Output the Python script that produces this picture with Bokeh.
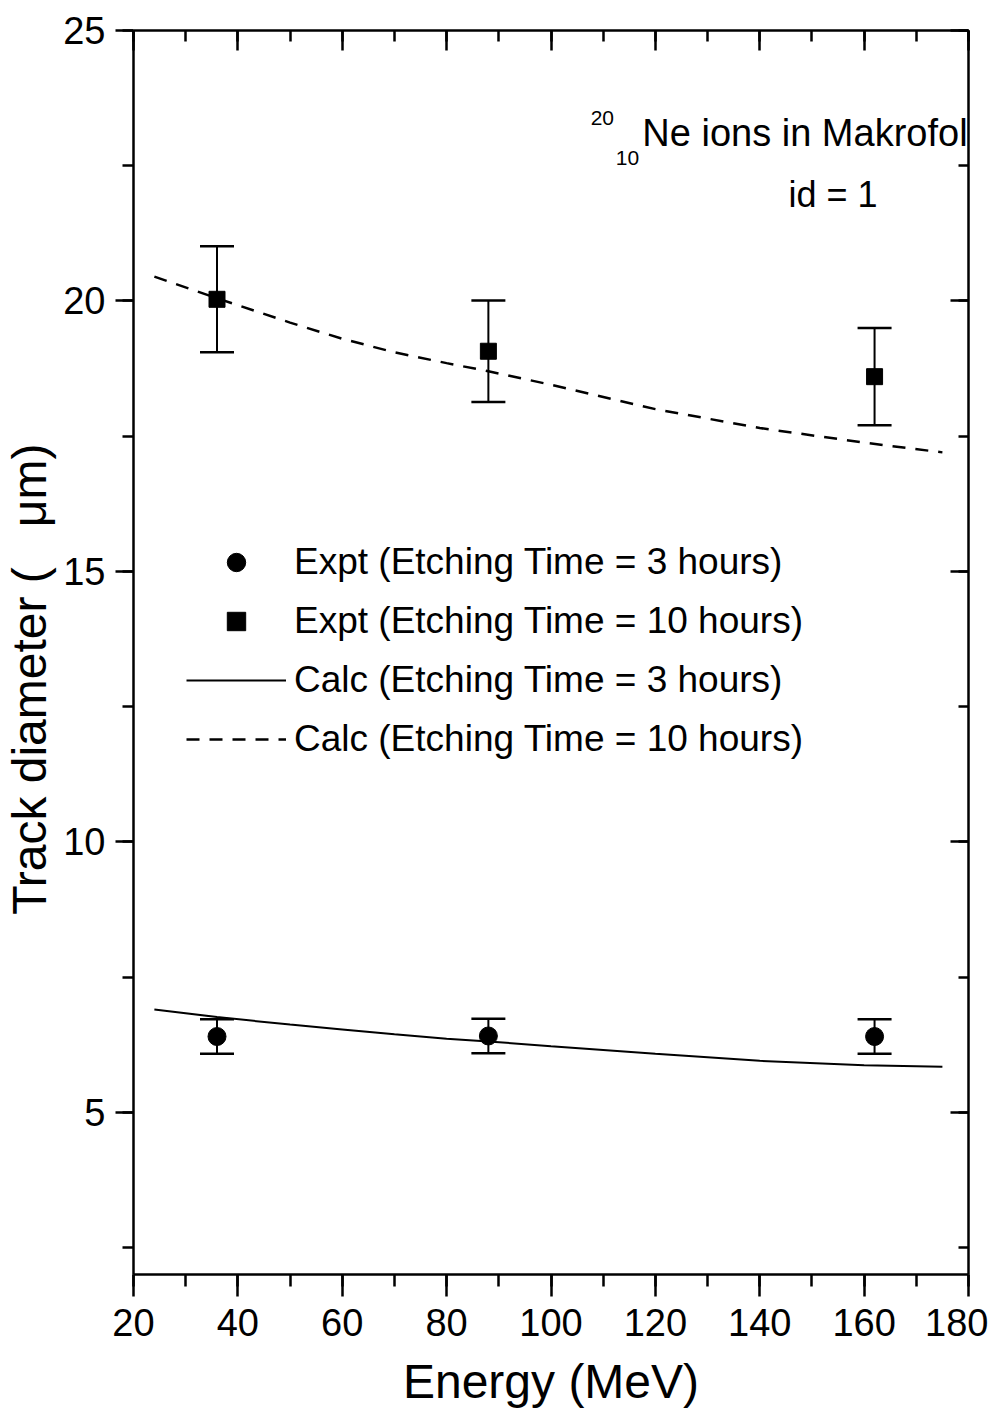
from bokeh.plotting import figure
from bokeh.models import (LinearAxis, SingleIntervalTicker, Range1d, Whisker, ColumnDataSource,
                          Legend, LegendItem, Label, CustomJSTickFormatter, TeeHead)
from bokeh.embed import file_html
from bokeh.resources import INLINE

# ---- data ----
energy_expt = [36, 88, 162]
diam_3h = [6.40, 6.41, 6.40]
err_3h = [0.32, 0.32, 0.32]
diam_10h = [20.03, 19.07, 18.60]
err_10h = [0.98, 0.94, 0.90]

energy_calc = [24, 36, 50, 60, 70, 80, 88, 100, 120, 140, 160, 175]
calc_3h = [6.90, 6.76, 6.62, 6.53, 6.44, 6.36, 6.31, 6.22, 6.08, 5.95, 5.87, 5.84]
calc_10h = [20.45, 20.05, 19.60, 19.30, 19.05, 18.85, 18.70, 18.45, 18.00, 17.65, 17.38, 17.20]

x_ticks_interval = 20
y_ticks_interval = 5

FONT = "Liberation Sans"

p = figure(frame_width=835, frame_height=1244,
           min_border_left=125, min_border_top=30, min_border_right=20, min_border_bottom=121,
           x_range=Range1d(20, 180), y_range=Range1d(2, 25),
           output_backend="svg", toolbar_location=None, x_axis_type=None, y_axis_type=None)
p.outline_line_color = None
p.xgrid.visible = False
p.ygrid.visible = False
p.background_fill_color = "white"
p.border_fill_color = "white"


def style_axis(ax, tick_out, minor_out, tick_in, minor_in):
    ax.axis_line_width = 2.5
    ax.axis_line_color = "black"
    ax.major_tick_line_width = 2.5
    ax.minor_tick_line_width = 2.5
    ax.major_tick_line_color = "black"
    ax.minor_tick_line_color = "black"
    ax.major_tick_out = tick_out
    ax.major_tick_in = tick_in
    ax.minor_tick_out = minor_out
    ax.minor_tick_in = minor_in
    ax.major_label_text_font = FONT
    ax.major_label_text_font_size = "38px"
    ax.major_label_text_color = "black"
    ax.axis_label_text_font = FONT
    ax.axis_label_text_font_size = "48px"
    ax.axis_label_text_font_style = "normal"
    ax.axis_label_text_color = "black"


xb = LinearAxis(ticker=SingleIntervalTicker(interval=x_ticks_interval, num_minor_ticks=2),
                axis_label="Energy (MeV)")
style_axis(xb, 22, 12, 0, 0)
xb.major_label_standoff = 12
xb.axis_label_standoff = 16
p.add_layout(xb, "below")

yl = LinearAxis(ticker=SingleIntervalTicker(interval=y_ticks_interval, num_minor_ticks=2),
                axis_label="Track diameter (\u00a0\u00a0\u00a0\u03bcm)\u00a0\u00a0\u00a0\u00a0")
style_axis(yl, 18, 11, 0, 0)
yl.major_label_standoff = 10
yl.axis_label_standoff = 4
p.add_layout(yl, "left")

blank = CustomJSTickFormatter(code="return ''")
xt = LinearAxis(ticker=SingleIntervalTicker(interval=x_ticks_interval, num_minor_ticks=2), formatter=blank)
style_axis(xt, 0, 0, 20, 11)
xt.major_label_standoff = 0
p.add_layout(xt, "above")

yr = LinearAxis(ticker=SingleIntervalTicker(interval=y_ticks_interval, num_minor_ticks=2), formatter=blank)
style_axis(yr, 0, 0, 18, 10)
yr.major_label_standoff = 0
p.add_layout(yr, "right")

# ---- calculated curves ----
r_l3 = p.line(energy_calc, calc_3h, line_color="black", line_width=2)
r_l10 = p.line(energy_calc, calc_10h, line_color="black", line_width=2.5, line_dash="13 10")

# ---- error bars ----
src3 = ColumnDataSource(dict(x=energy_expt, y=diam_3h,
                             lo=[a - b for a, b in zip(diam_3h, err_3h)],
                             hi=[a + b for a, b in zip(diam_3h, err_3h)]))
src10 = ColumnDataSource(dict(x=energy_expt, y=diam_10h,
                              lo=[a - b for a, b in zip(diam_10h, err_10h)],
                              hi=[a + b for a, b in zip(diam_10h, err_10h)]))
for s in (src3, src10):
    w = Whisker(source=s, base="x", upper="hi", lower="lo", line_color="black", line_width=2,
                upper_head=TeeHead(size=34, line_width=2.5, line_color="black"),
                lower_head=TeeHead(size=34, line_width=2.5, line_color="black"))
    p.add_layout(w)

r_c3 = p.scatter("x", "y", source=src3, marker="circle", size=18, color="black")
r_c10 = p.scatter("x", "y", source=src10, marker="square", size=16, color="black")

legend = Legend(items=[
    LegendItem(label="Expt (Etching Time = 3 hours)", renderers=[r_c3]),
    LegendItem(label="Expt (Etching Time = 10 hours)", renderers=[r_c10]),
    LegendItem(label="Calc (Etching Time = 3 hours)", renderers=[r_l3]),
    LegendItem(label="Calc (Etching Time = 10 hours)", renderers=[r_l10]),
], location=(53, 512), glyph_width=100, glyph_height=46, label_height=46, spacing=13,
    padding=0, margin=0, border_line_color=None, background_fill_alpha=0,
    label_text_font=FONT, label_text_font_size="37px", label_standoff=8, label_text_color="black")
p.add_layout(legend)

# ---- annotation ----
p.add_layout(Label(x=117.5, y=23.10, text="Ne ions in Makrofol", text_font=FONT,
                   text_font_size="38px", text_baseline="alphabetic", text_color="black"))
p.add_layout(Label(x=107.6, y=23.39, text="20", text_font=FONT,
                   text_font_size="21px", text_baseline="alphabetic", text_color="black"))
p.add_layout(Label(x=112.4, y=22.65, text="10", text_font=FONT,
                   text_font_size="21px", text_baseline="alphabetic", text_color="black"))
p.add_layout(Label(x=145.5, y=21.96, text="id = 1", text_font=FONT,
                   text_font_size="36px", text_baseline="alphabetic", text_color="black"))

open("out.html", "w").write(file_html(p, INLINE))
